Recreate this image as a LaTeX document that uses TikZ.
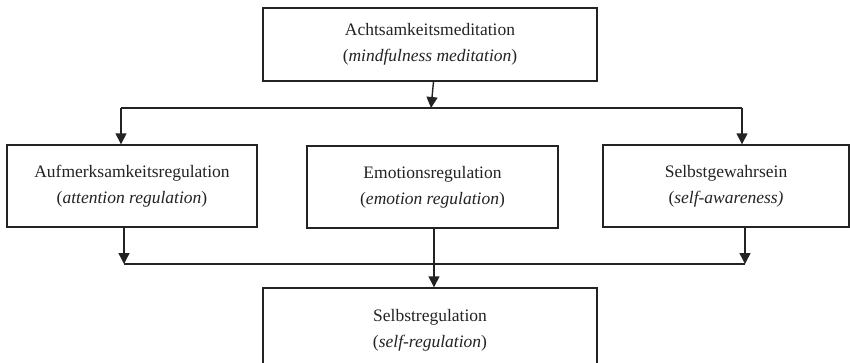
\documentclass[tikz,border=0pt]{standalone}
\usepackage{fontspec}
\setmainfont{Liberation Serif}
\usetikzlibrary{arrows.meta}
\definecolor{ink}{RGB}{35,35,35}
\tikzset{
  box/.style={draw=ink, line width=1.4pt, fill=white, align=center, inner sep=0pt,
    text=ink, font=\fontsize{17.5}{26}\selectfont},
  arr/.style={draw=ink, line width=1.4pt, -{Triangle[length=11pt,width=11pt]}},
  bus/.style={draw=ink, line width=1.4pt}
}
\begin{document}
\begin{tikzpicture}[x=1pt,y=-1pt]
\useasboundingbox (0,0) rectangle (850,362);
% boxes
\node[box, minimum width=334pt, minimum height=73pt] (med) at (430,44.5)
  {Achtsamkeitsmeditation\\(\textit{mindfulness meditation})};
\node[box, minimum width=250pt, minimum height=82pt] (att) at (132,186)
  {Aufmerksamkeitsregulation\\(\textit{attention regulation})};
\node[box, minimum width=251pt, minimum height=82pt] (emo) at (432.5,187)
  {Emotionsregulation\\(\textit{emotion regulation})};
\node[box, minimum width=246pt, minimum height=82pt] (awa) at (726,186)
  {Selbstgewahrsein\\(\textit{self-awareness)}};
\node[box, minimum width=334pt, minimum height=84pt] (sreg) at (430,330)
  {Selbstregulation\\(\textit{self-regulation})};
% upper distribution line
\coordinate (tip) at (431,108);
\coordinate (tl) at (121,108);
\coordinate (tr) at (742,108);
\draw[arr] ([xshift=3.5pt]med.south) -- (tip);
\draw[bus] (tl) -- (tr);
\draw[arr] (tl) -- (tl |- att.north);
\draw[arr] (tr) -- (tr |- awa.north);
% lower collecting line
\coordinate (bl) at (124,264);
\coordinate (br) at (745,264);
\coordinate (bm) at (434,264);
\draw[bus] (bl) -- (br);
\draw[arr] (bl |- att.south) -- (bl);
\draw[arr] (br |- awa.south) -- (br);
\draw[arr] (bm |- emo.south) -- (bm |- sreg.north);
\end{tikzpicture}
\end{document}
